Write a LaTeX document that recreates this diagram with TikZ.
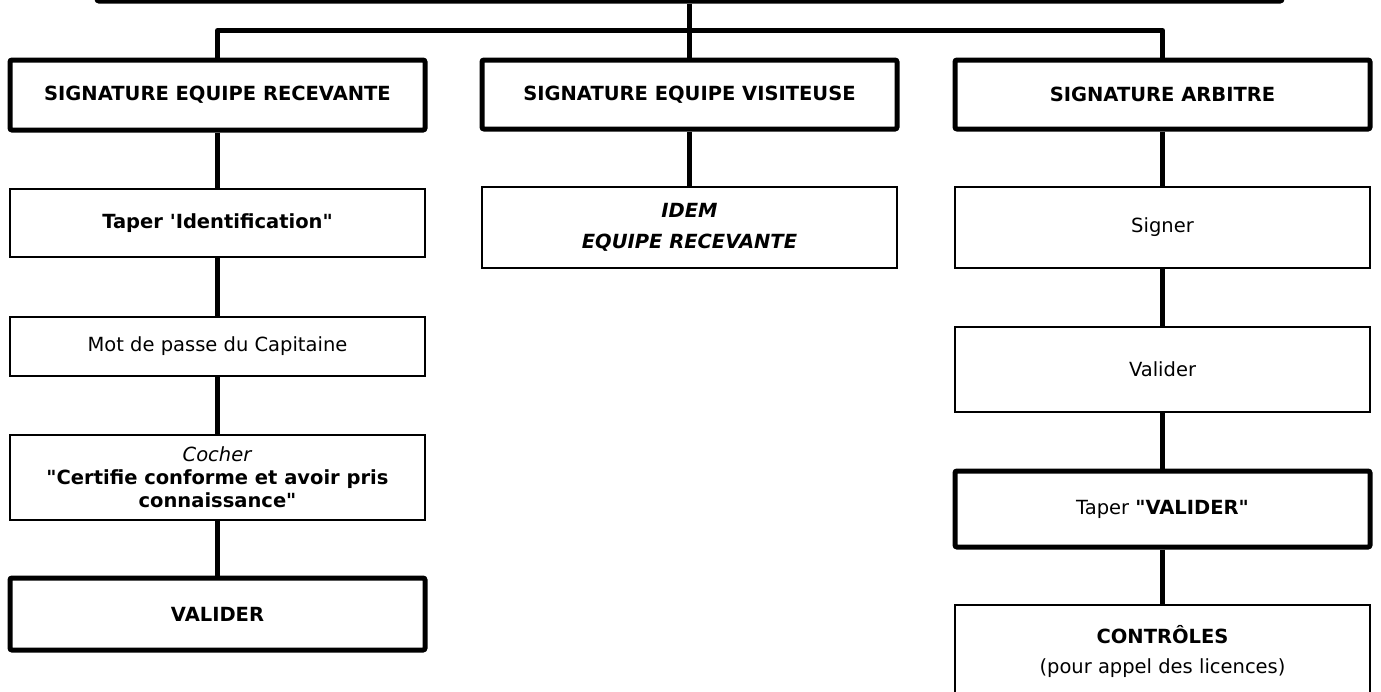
\documentclass[tikz,border=0pt]{standalone}
\usepackage{fontspec}
\newfontfamily\formfont{DejaVu Sans}

\begin{document}
\begin{tikzpicture}[x=1pt,y=-1pt,
		thinbox/.style={draw,line width=2pt,minimum width=415pt,inner sep=0pt,
			align=center,font=\formfont\fontsize{19.5}{23}\selectfont},
		thickbox/.style={thinbox,line width=5pt,rounded corners=2pt},
		link/.style={line width=5pt,line join=round}]
		
		\useasboundingbox (0,0) rectangle (1381,691);
		
		%--- Title box, cut off at the top ---
		\node[thickbox,minimum width=1185pt,minimum height=60pt,anchor=south] (title) at (689.5,3.5) {};
		
		%--- Three signatures ---
		\node[thickbox,minimum height=70pt] (recv) at (217.5,95) {\textbf{SIGNATURE EQUIPE RECEVANTE}};
		\node[thickbox,minimum height=69pt] (visit) at (689.5,94.5) {\textbf{SIGNATURE EQUIPE VISITEUSE}};
		\node[thickbox,minimum height=69pt] (arb) at (1162.5,94.5) {\textbf{SIGNATURE ARBITRE}};
		
		% Bar between the three
		\coordinate (barL) at (217.5,30.5);
		\coordinate (barR) at (1162.5,30.5);
		\draw[link] (title.south) -- (visit.north);
		\draw[link] (recv.north) -- (barL) -- (barR) -- (arb.north);
		
		%--- Home team ---
		\node[thinbox,minimum height=68pt] (ident) at (217.5,223) {\textbf{Taper 'Identification"}};
		\node[thinbox,minimum height=59pt] (pass) at (217.5,346.5) {Mot de passe du Capitaine};
		\node[thinbox,minimum height=85pt] (tick) at (217.5,477.5)
			{\textit{Cocher}\\\textbf{"Certifie conforme et avoir pris}\\\textbf{connaissance"}};
		\node[thickbox,minimum height=72pt] (okrecv) at (217.5,614) {\textbf{VALIDER}};
		
		\draw[link] (recv) -- (ident);
		\draw[link] (ident) -- (pass);
		\draw[link] (pass) -- (tick);
		\draw[link] (tick) -- (okrecv);
		
		%--- Visiting team ---
		\node[thinbox,minimum height=81pt] (idem) at (689.5,227.5)
			{\textbf{\textit{IDEM}}\\[8pt]\textbf{\textit{EQUIPE RECEVANTE}}};
		\draw[link] (visit) -- (idem);
		
		%--- Referee ---
		\node[thinbox,minimum height=81pt] (sign) at (1162.5,227.5) {Signer};
		\node[thinbox,minimum height=85pt] (check) at (1162.5,369.5) {Valider};
		\node[thickbox,minimum height=76pt] (okarb) at (1162.5,509) {Taper \textbf{"VALIDER"}};
		\node[thinbox,minimum height=92pt] (ctrl) at (1162.5,651)
			{\textbf{CONTRÔLES}\\[7pt](pour appel des licences)};
		
		\draw[link] (arb) -- (sign);
		\draw[link] (sign) -- (check);
		\draw[link] (check) -- (okarb);
		\draw[link] (okarb) -- (ctrl);
		
	\end{tikzpicture}
\end{document}
